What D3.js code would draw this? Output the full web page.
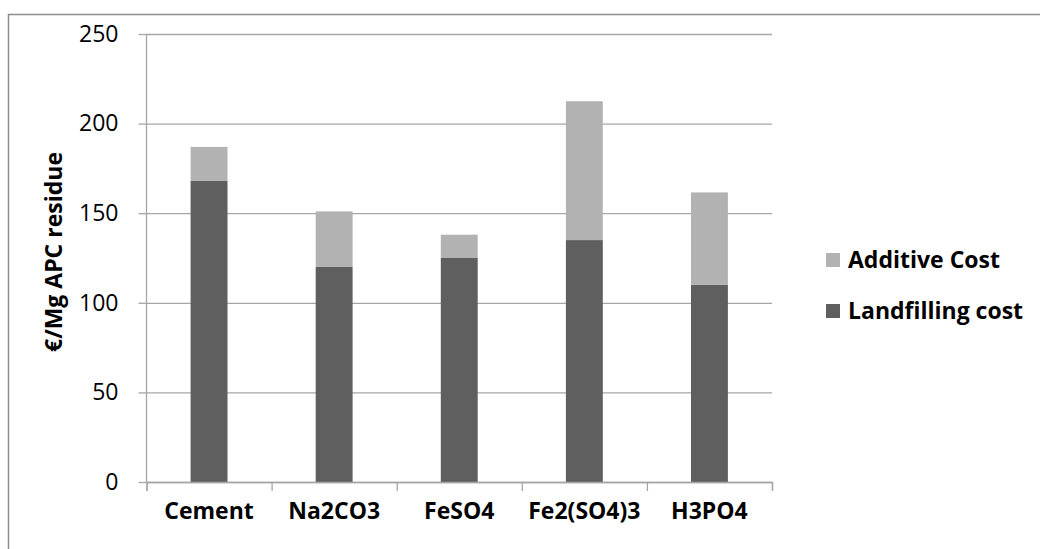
<!DOCTYPE html>
<html>
<head>
<meta charset="utf-8">
<script src="https://cdn.jsdelivr.net/npm/d3@7/dist/d3.min.js"></script>
<style>
  html, body { margin: 0; padding: 0; background: #fff; }
  svg { display: block; font-family: "Open Sans", "DejaVu Sans", sans-serif; }
</style>
</head>
<body>
<div id="chart"></div>
<script>
// Treatment options and their cost breakdown (€/Mg APC residue)
const categories = ["Cement", "Na2CO3", "FeSO4", "Fe2(SO4)3", "H3PO4"];
const landfillingCost = [168, 120, 125, 135, 110];
const additiveCost = [19, 31, 13, 77.5, 51.6];
const seriesNames = ["Additive Cost", "Landfilling cost"];
const yTicks = [0, 50, 100, 150, 200, 250];
const yTitle = "€/Mg APC residue";

const W = 1040, H = 549;
const plot = { left: 146.5, right: 772, top: 34, bottom: 482 };
const colors = { landfill: "#5f5f5f", additive: "#b2b2b2", grid: "#a6a6a6", frame: "#8c8c8c" };

const svg = d3.select("#chart").append("svg")
  .attr("width", W).attr("height", H);

// outer chart frame
svg.append("rect")
  .attr("x", 8.5).attr("y", 14.5)
  .attr("width", W + 10).attr("height", H + 10)
  .attr("fill", "none").attr("stroke", colors.frame).attr("stroke-width", 1.5);

const y = d3.scaleLinear().domain([0, 250]).range([plot.bottom, plot.top]);
const x = d3.scaleBand().domain(categories).range([plot.left, plot.right])
  .paddingInner(0.705).paddingOuter(0.3525);
const xEdges = d3.scaleLinear().domain([0, categories.length]).range([plot.left, plot.right]);

// horizontal gridlines + y axis labels
const yAxis = svg.append("g")
  .attr("transform", `translate(${plot.left},0)`)
  .call(d3.axisLeft(y).tickValues(yTicks).tickSize(8).tickPadding(20));
yAxis.select(".domain").remove();
yAxis.selectAll(".tick line").attr("stroke", colors.grid).attr("stroke-width", 1.3);
yAxis.selectAll(".tick text")
  .attr("font-size", 23).attr("fill", "#000")
  .attr("font-family", "'Open Sans', sans-serif");
yAxis.selectAll(".tick").append("line")
  .attr("x1", 0).attr("x2", plot.right - plot.left)
  .attr("stroke", colors.grid).attr("stroke-width", 1.3);

// vertical axis line
svg.append("line")
  .attr("x1", plot.left).attr("x2", plot.left)
  .attr("y1", plot.top).attr("y2", plot.bottom)
  .attr("stroke", colors.grid).attr("stroke-width", 1.3);

// stacked bars
const stacked = categories.map((c, i) => ({
  cat: c, landfill: landfillingCost[i], additive: additiveCost[i]
}));
const bars = svg.append("g");
bars.selectAll("rect.landfill").data(stacked).join("rect")
  .attr("class", "landfill")
  .attr("x", d => x(d.cat)).attr("width", x.bandwidth())
  .attr("y", d => y(d.landfill)).attr("height", d => y(0) - y(d.landfill))
  .attr("fill", colors.landfill);
bars.selectAll("rect.additive").data(stacked).join("rect")
  .attr("class", "additive")
  .attr("x", d => x(d.cat)).attr("width", x.bandwidth())
  .attr("y", d => y(d.landfill + d.additive)).attr("height", d => y(d.landfill) - y(d.landfill + d.additive))
  .attr("fill", colors.additive);

// x axis with ticks between categories
const xAxis = svg.append("g")
  .attr("transform", `translate(0,${plot.bottom})`)
  .call(d3.axisBottom(xEdges).tickValues(d3.range(categories.length + 1)).tickSize(9).tickFormat(""));
xAxis.select(".domain").attr("stroke", colors.grid).attr("stroke-width", 1.3);
xAxis.selectAll(".tick line").attr("stroke", colors.grid).attr("stroke-width", 1.3);

const xLabels = svg.append("g")
  .attr("transform", `translate(0,${plot.bottom})`)
  .call(d3.axisBottom(x).tickSize(0).tickPadding(21));
xLabels.select(".domain").remove();
xLabels.selectAll(".tick text")
  .attr("font-size", 23).attr("font-weight", "bold").attr("fill", "#000")
  .attr("font-family", "'Open Sans', sans-serif");

// y axis title
svg.append("text")
  .attr("transform", `translate(62,252) rotate(-90)`)
  .attr("text-anchor", "middle")
  .attr("font-size", 23).attr("font-weight", "bold").attr("fill", "#000")
  .text(yTitle);

// legend
const legendColors = [colors.additive, colors.landfill];
const legend = svg.append("g").attr("transform", "translate(826,260)");
const item = legend.selectAll("g").data(seriesNames).join("g")
  .attr("transform", (d, i) => `translate(0,${i * 51})`);
item.append("rect")
  .attr("x", 0).attr("y", -7).attr("width", 14).attr("height", 14)
  .attr("fill", (d, i) => legendColors[i]);
item.append("text")
  .attr("x", 22).attr("y", 0).attr("dy", "0.35em")
  .attr("font-size", 23).attr("font-weight", "bold").attr("fill", "#000")
  .text(d => d);
</script>
</body>
</html>
